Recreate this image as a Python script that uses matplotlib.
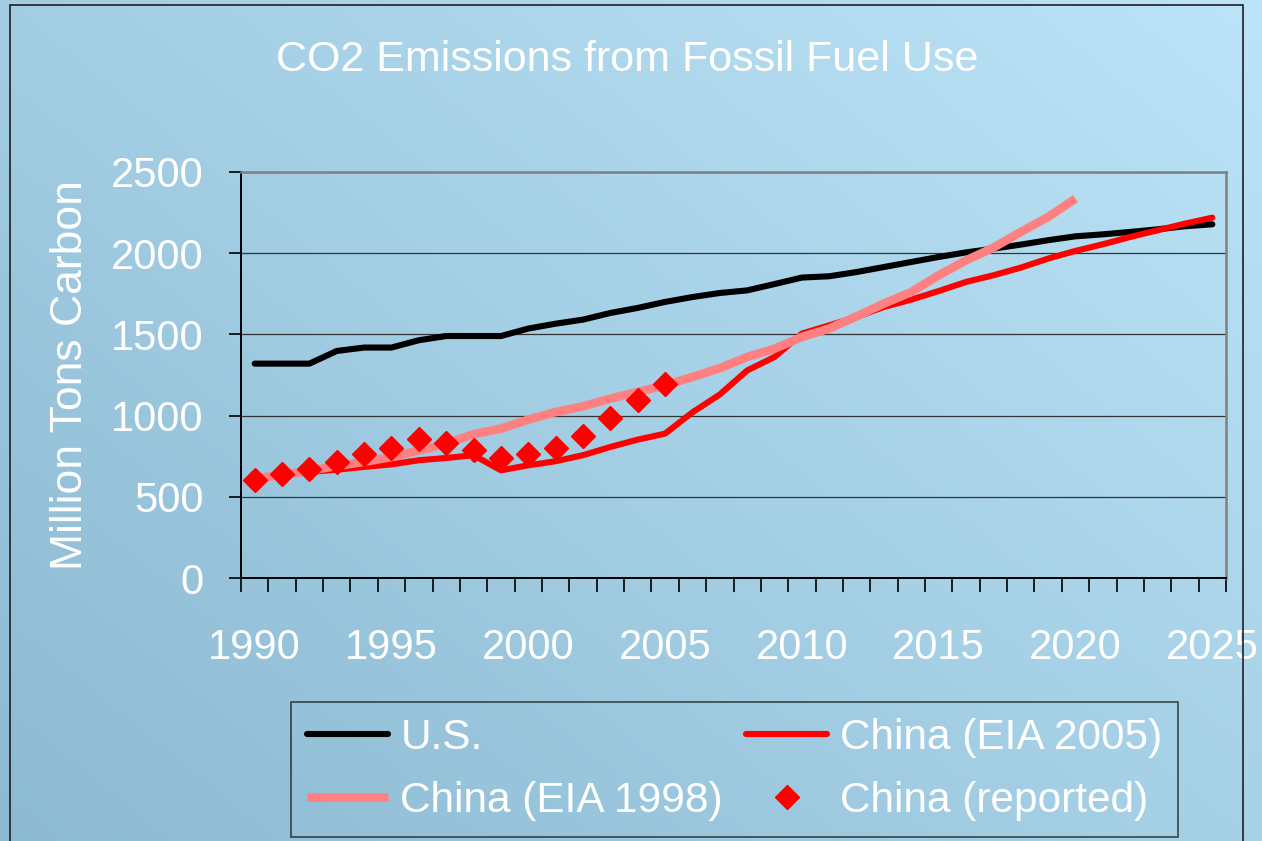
import numpy as np
import matplotlib
matplotlib.use("Agg")
import matplotlib.pyplot as plt
from matplotlib.colors import to_rgb
from matplotlib.patches import Rectangle

plt.rcParams["font.family"] = ["Liberation Sans", "DejaVu Sans"]

# data (million tons carbon)
years = list(range(1990, 2026))
us = [1320, 1320, 1320, 1398, 1419, 1419, 1464, 1490, 1490, 1490,
      1536, 1566, 1591, 1632, 1663, 1700, 1730, 1755, 1771, 1810,
      1850, 1858, 1884, 1915, 1946, 1977, 2005, 2028, 2053, 2080,
      2104, 2116, 2131, 2147, 2166, 2178]
china_eia2005 = [615, 632, 653, 667, 684, 700, 725, 739, 756, 663,
                 694, 719, 756, 807, 852, 889, 1020, 1130, 1278, 1361,
                 1505, 1556, 1607, 1669, 1714, 1767, 1823, 1864, 1911, 1967,
                 2014, 2055, 2100, 2141, 2182, 2219]
years_1998 = list(range(1990, 2021))
china_eia1998 = [612, 635, 660, 690, 715, 745, 785, 827, 885, 920,
                 975, 1022, 1057, 1105, 1145, 1187, 1238, 1292, 1361, 1412,
                 1484, 1536, 1611, 1690, 1761, 1864, 1956, 2034, 2131, 2223,
                 2336]
years_rep = list(range(1990, 2006))
china_reported = [606, 643, 674, 714, 762, 803, 858, 831, 786, 739,
                  762, 803, 873, 988, 1094, 1197]

W, H = 1262, 841
fig = plt.figure(figsize=(W / 100, H / 100), dpi=100)

# background gradient (greyer lower-left, lighter upper-right)
bg = fig.add_axes([0, 0, 1, 1], zorder=-10)
bg.axis("off")
gx, gy = np.meshgrid(np.linspace(0, 1, 200), np.linspace(1, 0, 140))
t = np.clip(0.55 * gx + 0.45 * gy, 0, 1)[..., None]
c0 = np.array(to_rgb("#8cbad2"))
c1 = np.array(to_rgb("#bde4f8"))
img = c0 * (1 - t) + c1 * t
bg.imshow(img, aspect="auto", extent=[0, 1, 0, 1], interpolation="bicubic")
bg.set_xlim(0, 1)
bg.set_ylim(0, 1)
fig.patches.append(Rectangle((10 / W, -0.02), (1243 - 10) / W, 1.02 - 5 / H,
                             transform=fig.transFigure, fill=False,
                             edgecolor="#202020", linewidth=1.2))

ax = fig.add_axes([241 / W, 1 - 578 / H, (1226 - 241) / W, (578 - 172) / H])
ax.set_facecolor("none")

ax.plot(years, us, color="black", lw=4.4, solid_capstyle="round", zorder=3, label="U.S.")
ax.plot(years, china_eia2005, color="#ff0000", lw=4.4, solid_capstyle="round", zorder=4,
        label="China (EIA 2005)")
ax.plot(years_1998, china_eia1998, color="#ff8080", lw=6.2, solid_capstyle="butt", zorder=5,
        label="China (EIA 1998)")
ax.plot(years_rep, china_reported, linestyle="none", marker="D", ms=12.5, color="#ff0000",
        zorder=6, label="China (reported)")

ax.set_xlim(1989.5, 2025.5)
ax.set_ylim(0, 2500)
ax.set_yticks(range(0, 2501, 500))
ax.set_xticks(range(1990, 2026, 5))
ax.set_xticks(np.arange(1989.5, 2026, 1), minor=True)
ax.tick_params(axis="x", which="major", length=0, pad=36, labelsize=30, colors="white")
ax.tick_params(axis="x", which="minor", length=10, width=1.2, color="black", direction="out")
ax.tick_params(axis="y", length=9, width=1.2, color="black", pad=18, labelsize=30,
               labelcolor="white")
ax.grid(axis="y", color="#333333", linewidth=0.9)
for s in ["top", "right"]:
    ax.spines[s].set_color("#808080")
    ax.spines[s].set_linewidth(1.8)
for s in ["left", "bottom"]:
    ax.spines[s].set_color("black")
    ax.spines[s].set_linewidth(1.4)

ax.set_ylabel("Million Tons Carbon", fontsize=32, color="white", labelpad=14)
fig.text(627 / W, 1 - 60 / H, "CO2 Emissions from Fossil Fuel Use", fontsize=31,
         color="white", ha="center", va="center")

h, l = ax.get_legend_handles_labels()
order = [0, 2, 1, 3]
leg = fig.legend([h[i] for i in order], [l[i] for i in order], ncol=2,
                 loc="center", bbox_to_anchor=(734.5 / W, 1 - 769.5 / H),
                 fontsize=30.5, frameon=True, fancybox=False, handlelength=1.9,
                 handletextpad=0.3, columnspacing=0.55, labelspacing=0.55,
                 borderpad=0.38, labelcolor="white")
leg.get_frame().set_facecolor("none")
leg.get_frame().set_edgecolor("#202020")
leg.get_frame().set_linewidth(1.2)

fig.savefig("out.png", dpi=100)
